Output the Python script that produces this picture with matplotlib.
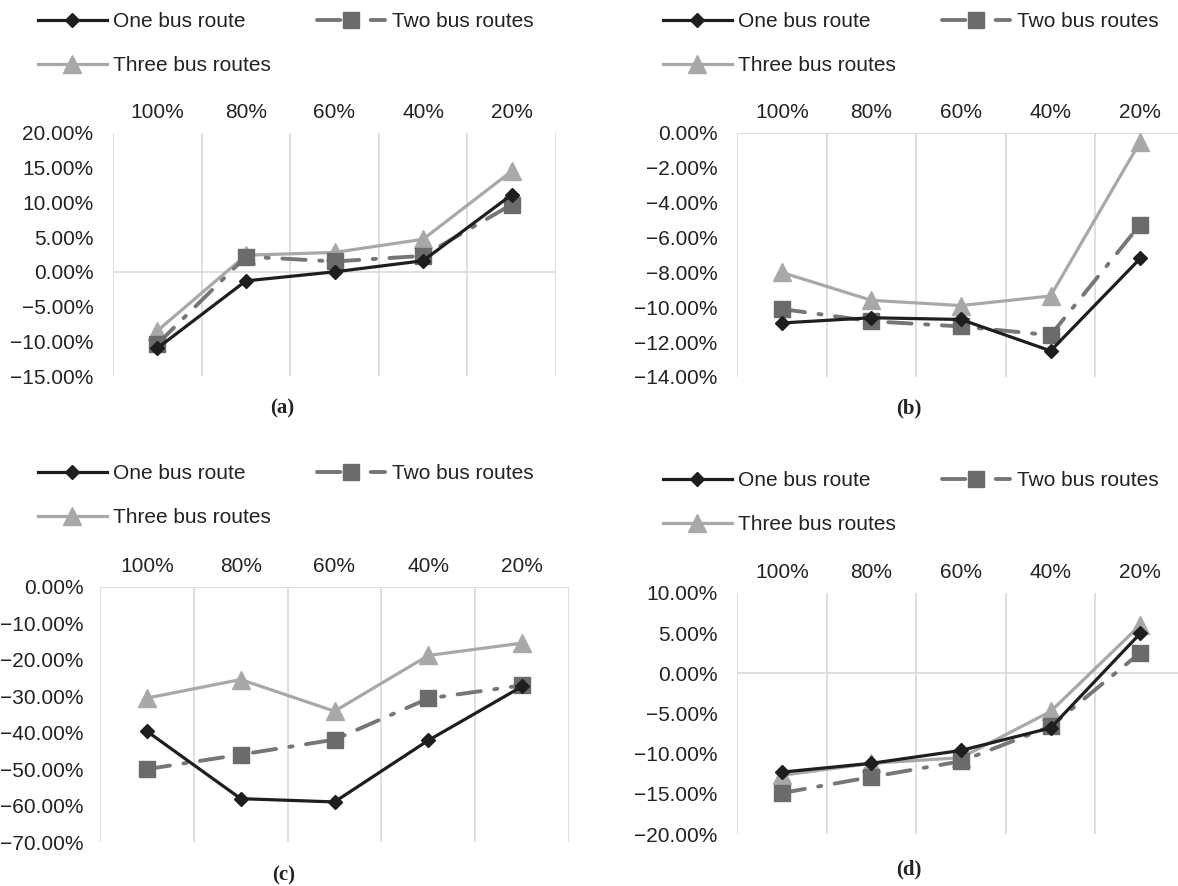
import matplotlib
matplotlib.use("Agg")
import matplotlib.pyplot as plt
from matplotlib.ticker import FixedLocator

plt.rcParams['font.family'] = ['Liberation Sans', 'DejaVu Sans']

# Share of demand (x categories) and relative change per scenario (%)
categories = ["100%", "80%", "60%", "40%", "20%"]
series_names = ["One bus route", "Two bus routes", "Three bus routes"]

a_one = [-11.0, -1.3, 0.0, 1.6, 11.1]
a_two = [-10.4, 2.2, 1.5, 2.3, 9.7]
a_three = [-8.5, 2.4, 2.8, 4.7, 14.5]
a_ticks = [20, 15, 10, 5, 0, -5, -10, -15]

b_one = [-10.9, -10.6, -10.7, -12.5, -7.2]
b_two = [-10.1, -10.8, -11.1, -11.6, -5.25]
b_three = [-8.0, -9.6, -9.9, -9.35, -0.5]
b_ticks = [0, -2, -4, -6, -8, -10, -12, -14]

c_one = [-39.6, -58.1, -59.0, -42.1, -27.3]
c_two = [-50.0, -46.0, -41.9, -30.6, -27.0]
c_three = [-30.5, -25.4, -34.1, -18.8, -15.4]
c_ticks = [0, -10, -20, -30, -40, -50, -60, -70]

d_one = [-12.3, -11.2, -9.6, -6.8, 4.96]
d_two = [-14.9, -12.9, -10.95, -6.6, 2.56]
d_three = [-12.7, -11.2, -10.5, -4.75, 6.0]
d_ticks = [10, 5, 0, -5, -10, -15, -20]

panel_labels = ["(a)", "(b)", "(c)", "(d)"]

W, H = 1178, 886
fig = plt.figure(figsize=(W / 100, H / 100), dpi=100)
fig.patch.set_facecolor("white")

TXT = "#222222"
GRID = "#d9d9d9"
FS = 15

styles = [
    dict(color="#1e1e1e", lw=2.3, marker="D", ms=7.2, mfc="#1e1e1e", mec="#1e1e1e",
         ls="-", zorder=5),
    dict(color="#767676", lw=2.8, marker="s", ms=11, mfc="#6b6b6b", mec="#6b6b6b",
         ls=(0, (6, 3.5, 0.8, 3.5)), dash_capstyle="round", zorder=4),
    dict(color="#a8a8a8", lw=2.3, marker="^", ms=13, mfc="#a8a8a8", mec="#a8a8a8",
         ls="-", zorder=3),
]


def px_axes(left, right, top, bottom):
    return fig.add_axes([left / W, 1 - bottom / H, (right - left) / W, (bottom - top) / H])


def fmt(v):
    s = f"{v:.2f}%"
    return s.replace("-", "\u2212")


def panel(box, data, ticks, legend_xy, caption, caption_xy, ypad=14):
    ax = px_axes(*box)
    x = list(range(1, len(categories) + 1))
    handles = []
    for vals, name, st in zip(data, series_names, styles):
        h, = ax.plot(x, vals, label=name, **st)
        handles.append(h)
    ax.set_xlim(0.5, len(categories) + 0.5)
    ax.set_ylim(min(ticks), max(ticks))
    for s in ax.spines.values():
        s.set_visible(False)
    ax.axhline(0, color=GRID, lw=1.2, zorder=1)
    ax.xaxis.set_minor_locator(FixedLocator([i + 0.5 for i in range(0, len(categories) + 1)]))
    ax.grid(which="minor", axis="x", color=GRID, lw=1.2, zorder=0)
    ax.set_xticks(x)
    ax.set_xticklabels(categories)
    ax.xaxis.tick_top()
    ax.tick_params(axis="x", which="both", length=0, pad=8, labelsize=FS, labelcolor=TXT)
    ax.set_yticks(ticks)
    ax.set_yticklabels([fmt(t) for t in ticks])
    ax.tick_params(axis="y", length=0, pad=ypad, labelsize=FS, labelcolor=TXT)
    order = [handles[0], handles[2], handles[1]]
    fig.legend(order, [h.get_label() for h in order], ncol=2,
               loc="upper left",
               bbox_to_anchor=(legend_xy[0] / W, 1 - legend_xy[1] / H),
               frameon=False, fontsize=FS, borderpad=0, borderaxespad=0,
               handlelength=3.3, handletextpad=0.3, columnspacing=2.2,
               labelspacing=1.2, numpoints=1, labelcolor=TXT)
    fig.text(caption_xy[0] / W, 1 - caption_xy[1] / H, caption, ha="center", va="center",
             family=["Liberation Serif", "DejaVu Serif"], fontweight="bold", fontsize=15,
             color=TXT)
    return ax


panel((113, 556, 133, 376), [a_one, a_two, a_three], a_ticks, (38, 12), panel_labels[0], (282, 408))
panel((737, 1185, 133, 377), [b_one, b_two, b_three], b_ticks, (663, 12), panel_labels[1], (909, 408))
panel((100, 569, 587, 842), [c_one, c_two, c_three], c_ticks, (38, 464), panel_labels[2], (284, 875),
      ypad=12)
panel((737, 1185, 593, 834), [d_one, d_two, d_three], d_ticks, (663, 471), panel_labels[3], (909, 869))

fig.savefig("out.png", dpi=100, facecolor="white")
